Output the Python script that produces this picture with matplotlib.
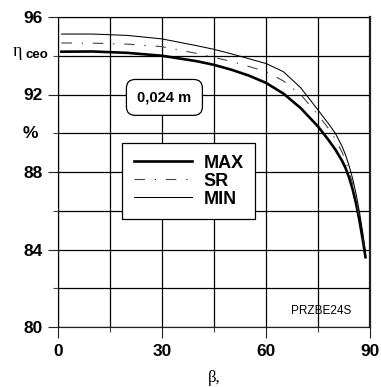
import matplotlib
matplotlib.use("Agg")
import matplotlib.pyplot as plt
import matplotlib.transforms as mtransforms

# ---- data ----
beta = [1, 10, 20, 30, 40, 45, 50, 55, 60, 65, 70, 75, 78, 80, 82, 83, 84, 85, 86, 87, 88, 88.7]
eta_max = [94.21, 94.22, 94.15, 94.0, 93.72, 93.53, 93.28, 92.98, 92.6, 92.05, 91.3, 90.35,
           89.66, 89.16, 88.56, 88.18, 87.7, 87.1, 86.35, 85.45, 84.4, 83.6]
eta_sr = [94.66, 94.65, 94.6, 94.47, 94.12, 93.92, 93.7, 93.45, 93.18, 92.7, 92.0, 90.95,
          90.25, 89.7, 89.0, 88.55, 88.0, 87.38, 86.6, 85.68, 84.58, 83.7]
eta_min = [95.12, 95.12, 95.05, 94.87, 94.52, 94.33, 94.1, 93.85, 93.6, 93.18, 92.35, 91.2,
           90.5, 90.0, 89.3, 88.85, 88.3, 87.65, 86.85, 85.9, 84.75, 83.85]
series_labels = ["MAX", "SR", "MIN"]

x_major = [0, 30, 60, 90]
x_minor = [15, 45, 75]
y_major = [80, 84, 88, 92, 96]
y_minor = [82, 86, 90, 94]
y_major_labels = ["80", "84", "88", "92", "96"]
box_text = "0,024 m"
code_text = "PRZBE24S"
xlabel_text = "β,"

SANS = "Liberation Sans"
SERIF = "Liberation Serif"

fig = plt.figure(figsize=(3.81, 3.87), dpi=100)
W, H = 381, 387
ax = fig.add_axes([58 / W, 60 / H, 312 / W, 310 / H])
ax.set_xlim(0, 90)
ax.set_ylim(80, 96)

ax.set_xticks(x_major)
ax.set_xticks(x_minor, minor=True)
ax.set_yticks(y_major)
ax.set_yticks(y_minor, minor=True)
ax.set_xticklabels([str(v) for v in x_major], fontfamily=SANS, fontweight="bold", fontsize=12.5)
ax.set_yticklabels(y_major_labels, fontfamily=SANS, fontweight="bold", fontsize=12.5)
ax.tick_params(axis="x", which="major", length=8, width=0.8, color="#222", pad=4)
ax.tick_params(axis="x", which="minor", length=3.6, width=0.8, color="#444")
ax.tick_params(axis="y", which="major", length=7.2, width=0.8, color="#222", pad=4)
ax.tick_params(axis="y", which="minor", length=3.6, width=0.8, color="#444")

# grid lines at every tick position
ax.set_axisbelow(False)
ax.grid(visible=True, which="both", axis="both", color="black", linewidth=0.9,
        linestyle="-", alpha=1.0, zorder=2.5)

for side in ["left", "bottom", "top"]:
    ax.spines[side].set_linewidth(0.85)
    ax.spines[side].set_color("#222")
ax.spines["right"].set_linewidth(1.6)
ax.spines["right"].set_color("#222")

# curves
l_max, = ax.plot(beta, eta_max, color="black", linewidth=1.9, zorder=3)
l_sr, = ax.plot(beta, eta_sr, color="#444", linewidth=0.8,
                linestyle=(0, (9.4, 8.8, 1.25, 8.8)), zorder=3)
l_min, = ax.plot(beta, eta_min, color="black", linewidth=0.75, zorder=3)

# y-axis special labels
tr = mtransforms.blended_transform_factory(fig.transFigure, ax.transData)
ax.text(30 / W, 90, "%", transform=tr, ha="center", va="center",
        fontfamily=SANS, fontweight="bold", fontsize=12.5)
ax.text(13 / W, 94.0, "η", transform=tr, ha="left", va="baseline",
        fontfamily=SERIF, fontsize=13)
ax.text(25 / W, 93.9, "ceo", transform=tr, ha="left", va="baseline",
        fontfamily=SANS, fontweight="bold", fontsize=9.5)

# annotation box
ax.text(30.7, 91.85, box_text, ha="center", va="center", fontfamily=SANS,
        fontweight="bold", fontsize=10.5, zorder=5,
        bbox=dict(boxstyle="round,pad=0.75,rounding_size=0.6", facecolor="white",
                  edgecolor="black", linewidth=0.9))

# legend
leg = ax.legend([l_max, l_sr, l_min], series_labels, loc="upper left",
                bbox_to_anchor=(122 / W, 1 - 143 / H), bbox_transform=fig.transFigure,
                borderaxespad=0, fancybox=False, framealpha=1, edgecolor="black",
                prop=dict(family=SANS, weight="bold", size=13),
                handlelength=3.2, handletextpad=0.66, labelspacing=0.05, borderpad=0.65)
leg.get_frame().set_linewidth(0.9)
leg.set_zorder(6)

ax.text(76, 80.8, code_text, ha="center", va="center", fontfamily=SANS, fontsize=8.5, zorder=4)

fig.text(214 / W, 1 - 378 / H, xlabel_text, ha="center", va="center",
         fontfamily=SERIF, fontsize=12)

fig.savefig("out.png", dpi=100)
